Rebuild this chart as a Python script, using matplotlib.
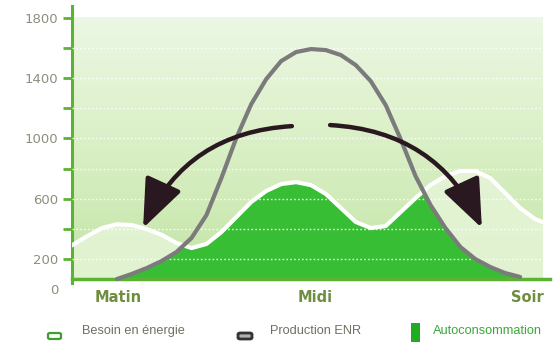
import numpy as np
import matplotlib
matplotlib.use("Agg")
import matplotlib.pyplot as plt
from matplotlib.patches import FancyBboxPatch, Rectangle
from matplotlib.colors import LinearSegmentedColormap

# Heures de la journée (abscisse) et courbes en W
hours = [5.5, 6.0, 6.5, 7.0, 7.5, 8.0, 8.5, 9.0, 9.5, 10.0, 10.5, 11.0, 11.5,
         12.0, 12.5, 13.0, 13.5, 14.0, 14.5, 15.0, 15.5, 16.0, 16.5, 17.0,
         17.5, 18.0, 18.5, 19.0, 19.5, 20.0, 20.5, 21.0, 21.25]
besoin = [290, 350, 405, 430, 425, 398, 360, 305, 272, 299, 378, 478, 578,
          651, 697, 710, 690, 631, 538, 445, 405, 418, 511, 604,
          691, 750, 784, 784, 737, 637, 538, 465, 445]

prod_hours = [7.0, 7.5, 8.0, 8.5, 9.0, 9.5, 10.0, 10.5, 11.0, 11.5, 12.0,
              12.5, 13.0, 13.5, 14.0, 14.5, 15.0, 15.5, 16.0, 16.5, 17.0,
              17.5, 18.0, 18.5, 19.0, 19.5, 20.0, 20.5]
production = [66, 100, 139, 186, 246, 339, 491, 737, 1003, 1228, 1394,
              1514, 1574, 1594, 1587, 1554, 1487, 1381, 1222, 996, 750,
              558, 405, 279, 199, 146, 106, 80]

period_pos = [7.04, 13.63, 20.73]
period_labels = ["Matin", "Midi", "Soir"]
y_major = [0, 200, 600, 1000, 1400, 1800]
y_minor = [400, 800, 1200, 1600]
grid_levels = [200, 400, 600, 800, 1000, 1200, 1400, 1600]
legend_labels = ["Besoin en énergie", "Production ENR", "Autoconsommation"]

BASE = 65          # niveau de l'axe horizontal
AXIS_GREEN = "#5cb233"
FILL_GREEN = "#38be34"
DARK = "#2a1820"
NARROW = ["Liberation Sans Narrow", "Liberation Sans", "DejaVu Sans"]

fig = plt.figure(figsize=(5.57, 3.45), dpi=100)
ax = fig.add_axes([72 / 557, 56 / 345, 478 / 557, 283 / 345])
ax.set_xlim(5.5, 21.5)
ax.set_ylim(0, 1880)

# fond dégradé vert
cmap = LinearSegmentedColormap.from_list(
    "fond", ["#c3e4a6", "#d2ecbb", "#e0f2cf", "#ecf7e4"])
grad = np.linspace(0, 1, 256).reshape(-1, 1)
ax.imshow(grad, extent=[hours[0], hours[-1], BASE, 1800], aspect="auto",
          cmap=cmap, origin="lower", zorder=0, interpolation="bilinear")

# zone sous le besoin (plus claire)
pale = ax.fill_between(hours, BASE, besoin, color="#e6f5d8", alpha=0.85,
                       lw=0, zorder=1)

# autoconsommation : production limitée au besoin
green = ax.fill_between(prod_hours, BASE, production, color=FILL_GREEN,
                        lw=0, zorder=2)
green.set_clip_path(pale.get_paths()[0], ax.transData)

# lignes de grille pointillées blanches
ax.hlines(grid_levels, hours[0], hours[-1], colors="white", lw=1.0,
          linestyles=(0, (1.2, 1.6)), alpha=0.85, zorder=3)

ax.plot(hours, besoin, color="white", lw=3.0, solid_joinstyle="round",
        solid_capstyle="round", zorder=4)
ax.plot(prod_hours, production, color="#7b7b7b", lw=3.0,
        solid_joinstyle="round", solid_capstyle="round", zorder=5)

# flèches de transfert
arrow_kw = dict(arrowstyle="-|>,head_length=1.5,head_width=0.6",
                color=DARK, lw=3.2, mutation_scale=20,
                shrinkA=0, shrinkB=0)
ax.annotate("", xy=(7.88, 405), xytext=(12.86, 1082), zorder=6,
            arrowprops=dict(connectionstyle="arc3,rad=0.3", **arrow_kw))
ax.annotate("", xy=(19.22, 405), xytext=(14.14, 1089), zorder=6,
            arrowprops=dict(connectionstyle="arc3,rad=-0.3", **arrow_kw))

# axes
for s in ("top", "right"):
    ax.spines[s].set_visible(False)
ax.spines["left"].set_color(AXIS_GREEN)
ax.spines["left"].set_linewidth(2.2)
ax.spines["left"].set_bounds(40, 1880)
ax.spines["bottom"].set_color(AXIS_GREEN)
ax.spines["bottom"].set_linewidth(2.5)
ax.spines["bottom"].set_position(("data", BASE))

ax.set_yticks(y_major)
ax.set_yticklabels([str(v) for v in y_major])
ax.set_yticks(y_minor, minor=True)
ax.tick_params(axis="y", which="both", direction="out", length=6.5,
               width=2, color=AXIS_GREEN, pad=3.5, labelsize=9.5,
               labelcolor="#8e8e7e")
ax.yaxis.get_major_ticks()[0].tick1line.set_visible(False)

ax.set_xticks(period_pos)
ax.set_xticklabels(period_labels, fontsize=10.5, fontweight="bold",
                   color="#6e8e40")
ax.tick_params(axis="x", length=0, pad=8)

# légende
fig.patches.append(FancyBboxPatch((48 / 557, (345 - 339) / 345),
                                  13 / 557, 6 / 345,
                                  boxstyle="round,pad=0,rounding_size=0.004",
                                  transform=fig.transFigure, fc="white",
                                  ec="#3f9f2c", lw=1.6))
fig.patches.append(FancyBboxPatch((238 / 557, (345 - 339) / 345),
                                  14 / 557, 6 / 345,
                                  boxstyle="round,pad=0,rounding_size=0.004",
                                  transform=fig.transFigure, fc="#b0b0b0",
                                  ec="#333333", lw=2.0))
fig.patches.append(Rectangle((411 / 557, (345 - 342) / 345),
                             9 / 557, 19 / 345,
                             transform=fig.transFigure, fc="#22aa22", lw=0))
legend_x = [82, 270, 433]
legend_colors = ["#6f6f62", "#6f6f62", "#3aa83a"]
for lx, lab, col in zip(legend_x, legend_labels, legend_colors):
    fig.text(lx / 557, (345 - 331) / 345, lab, ha="left", va="center",
             fontsize=9.2, color=col, family=NARROW)

fig.savefig("out.png", dpi=100)
